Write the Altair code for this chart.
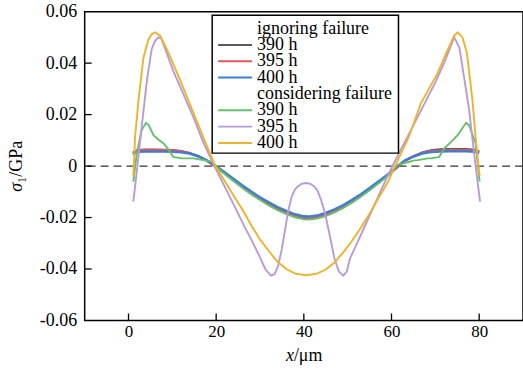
import altair as alt
import pandas as pd

# ---------------- data ----------------
KEYS = ["ignoring 390 h", "ignoring 395 h", "ignoring 400 h",
        "considering 390 h", "considering 395 h", "considering 400 h"]
COLORS = ["#5a5a5a", "#e2575b", "#3b7dd8", "#63bf6c", "#b79ad8", "#eeb22c"]

LEG_LABELS = ["ignoring failure", "390 h", "395 h", "400 h",
              "considering failure", "390 h", "395 h", "400 h"]
LEG_COLORS = ["transparent", "#5a5a5a", "#e2575b", "#3b7dd8",
              "transparent", "#63bf6c", "#b79ad8", "#eeb22c"]

IG_X = [1, 2, 4, 6, 8, 10, 12, 14, 16, 18, 20, 22, 24, 26, 28, 30, 32, 34, 36, 38, 40, 41,
        43, 45, 47, 49, 51, 53, 55, 57, 59, 61, 63, 65, 67, 69, 71, 73, 75, 77, 79, 80]
IG390 = [0.0052, 0.0062, 0.0064, 0.0064, 0.0063, 0.0062, 0.0058, 0.0050, 0.0038, 0.0020, -0.0003,
         -0.0029, -0.0055, -0.0081, -0.0105, -0.0127, -0.0148, -0.0166, -0.0181, -0.0194, -0.0202,
         -0.0203, -0.0199, -0.0189, -0.0175, -0.0158, -0.0138, -0.0115, -0.0091, -0.0065, -0.0038,
         -0.0009, 0.0020, 0.0038, 0.0052, 0.0061, 0.0065, 0.0066, 0.0066, 0.0066, 0.0063, 0.0056]
IG395 = [0.0050, 0.0061, 0.0062, 0.0062, 0.0062, 0.0061, 0.0057, 0.0049, 0.0037, 0.0020, -0.0002,
         -0.0028, -0.0054, -0.0080, -0.0104, -0.0126, -0.0147, -0.0165, -0.0180, -0.0193, -0.0201,
         -0.0202, -0.0198, -0.0188, -0.0174, -0.0157, -0.0137, -0.0114, -0.0090, -0.0064, -0.0037,
         -0.0008, 0.0020, 0.0037, 0.0050, 0.0058, 0.0061, 0.0062, 0.0062, 0.0062, 0.0060, 0.0054]
IG400 = [0.0045, 0.0055, 0.0056, 0.0056, 0.0056, 0.0055, 0.0053, 0.0048, 0.0038, 0.0022, 0.0000,
         -0.0025, -0.0050, -0.0075, -0.0099, -0.0121, -0.0141, -0.0159, -0.0174, -0.0187, -0.0195,
         -0.0196, -0.0192, -0.0182, -0.0168, -0.0151, -0.0131, -0.0109, -0.0085, -0.0060, -0.0034,
         -0.0005, 0.0022, 0.0037, 0.0048, 0.0054, 0.0056, 0.0057, 0.0057, 0.0057, 0.0055, 0.0050]

C390_X = [1.1, 1.9, 3.0, 4.0, 4.6, 5.7, 6.8, 8.0, 9.1, 10.2, 12.1, 14.8, 17.1, 19.0, 20, 22, 24,
          26, 28, 30, 32, 34, 36, 38, 40, 41, 43, 45, 47, 49, 51, 53, 55, 57, 59, 61.4, 63.7,
          65.2, 66, 68.3, 69, 70.9, 72, 73.6, 75.1, 77.0, 77.7, 79.2, 80.1]
C390_Y = [-0.0060, 0.0050, 0.0140, 0.0168, 0.0159, 0.0120, 0.0103, 0.0088, 0.0065, 0.0036, 0.0030,
          0.0030, 0.0023, 0.0017, -0.0002, -0.0032, -0.0059, -0.0085, -0.0110, -0.0132, -0.0153,
          -0.0171, -0.0187, -0.0199, -0.0207, -0.0208, -0.0204, -0.0194, -0.0180, -0.0163, -0.0142,
          -0.0119, -0.0094, -0.0068, -0.0040, 0.0005, 0.0015, 0.0022, 0.0023, 0.0030, 0.0030,
          0.0036, 0.0068, 0.0094, 0.0120, 0.0168, 0.0159, 0.0088, -0.0060]

C395_X = [1.1, 1.9, 3.0, 4.2, 5.3, 6.0, 6.8, 7.5, 8.7, 10.2, 12, 14.8, 17, 18.2, 19.6, 22, 24,
          26.6, 28, 30, 31.2, 32.5, 33.3, 34.1, 35, 35.7, 36.4, 37.2, 38, 38.7, 39.5, 40.5, 41.5,
          42.3, 43.1, 43.9, 44.8, 45.8, 47, 48, 49, 49.8, 50.5, 52, 54, 56, 58, 60.2, 62, 64, 67,
          70, 72, 73.5, 74.3, 75.5, 76.6, 77.7, 78.5, 79.2, 80.2]
C395_Y = [-0.0138, -0.0020, 0.0152, 0.0333, 0.0455, 0.0485, 0.0500, 0.0495, 0.0440, 0.0370, 0.0300,
          0.0190, 0.0095, 0.0050, 0.0000, -0.0082, -0.0150, -0.0240, -0.0285, -0.0355, -0.0400,
          -0.0426, -0.0420, -0.0390, -0.0320, -0.0250, -0.0177, -0.0120, -0.0090, -0.0078, -0.0069,
          -0.0066, -0.0069, -0.0078, -0.0095, -0.0130, -0.0180, -0.0260, -0.0360, -0.0410, -0.0426,
          -0.0410, -0.0360, -0.0305, -0.0230, -0.0155, -0.0080, 0.0000, 0.0060, 0.0125, 0.0225,
          0.0325, 0.0400, 0.0465, 0.0500, 0.0460, 0.0340, 0.0220, 0.0100, 0.0000, -0.0138]

C400_X = [1.1, 1.5, 2.3, 3.4, 4.5, 5.3, 6.1, 7.2, 8.7, 10.2, 11.8, 14.8, 17, 19.8, 22, 24, 26, 28,
          30, 32, 34, 36, 38, 40.5, 43, 45, 47, 49, 51, 53, 55, 57, 59.2, 60.8, 64, 66.7, 70.5,
          72.5, 74.3, 75.1, 76.2, 77.2, 78.1, 78.5, 79.3, 80.1]
C400_Y = [-0.0041, 0.0113, 0.0260, 0.0420, 0.0490, 0.0513, 0.0520, 0.0507, 0.0455, 0.0397, 0.0333,
          0.0208, 0.0115, 0.0000, -0.0060, -0.0115, -0.0170, -0.0230, -0.0285, -0.0330, -0.0372,
          -0.0400, -0.0418, -0.0424, -0.0418, -0.0402, -0.0375, -0.0335, -0.0290, -0.0240, -0.0185,
          -0.0125, -0.0062, 0.0000, 0.0115, 0.0244, 0.0360, 0.0440, 0.0507, 0.0520, 0.0500, 0.0440,
          0.0310, 0.0250, 0.0090, -0.0040]

X_TICKS = [0, 20, 40, 60, 80]
Y_LABELS = [-0.06, -0.04, -0.02, 0, 0.02, 0.04, 0.06]
Y_TICKS = [-0.04, -0.02, 0, 0.02, 0.04]

# ---------------- build tables ----------------
def table(series):
    rows = []
    for key, xs, ys in series:
        for xv, yv in zip(xs, ys):
            rows.append({"s": key, "x": xv, "y": yv})
    return pd.DataFrame(rows)

df_ig = table([("ignoring 390 h", IG_X, IG390), ("ignoring 395 h", IG_X, IG395),
               ("ignoring 400 h", IG_X, IG400)])
df_co = table([("considering 390 h", C390_X, C390_Y), ("considering 395 h", C395_X, C395_Y),
               ("considering 400 h", C400_X, C400_Y)])
df_leg = pd.DataFrame({"row": list(range(len(LEG_LABELS))), "t": LEG_LABELS, "c": LEG_COLORS})

FONT = "Liberation Serif"
xscale = alt.Scale(domain=[-10, 90], nice=False, zero=False)
yscale = alt.Scale(domain=[-0.06, 0.06], nice=False, zero=False)
legscale = alt.Scale(domain=[0, 7], range=[17, 131.8], nice=False, zero=False)

color = alt.Color("s:N", scale=alt.Scale(domain=KEYS, range=COLORS), legend=None)

x_enc = alt.X("x:Q", scale=xscale,
              axis=alt.Axis(values=X_TICKS, title=None, tickSize=0, domain=False, grid=False,
                            labelFont=FONT, labelFontSize=17, labelColor="black", labelPadding=3))
y_enc = alt.Y("y:Q", scale=yscale,
              axis=alt.Axis(values=Y_LABELS, title=None, tickSize=0, domain=False, grid=False,
                            labelFont=FONT, labelFontSize=18, labelColor="black", labelPadding=8,
                            labelExpr="datum.value == 0 ? '0' : (datum.value < 0 ? '-' : '') + format(abs(datum.value), '.2f')"))

ig_lines = alt.Chart(df_ig).mark_line(strokeWidth=2.3).encode(x=x_enc, y=y_enc, color=color)
co_lines = alt.Chart(df_co).mark_line(strokeWidth=1.9).encode(
    x=alt.X("x:Q", scale=xscale, axis=None), y=alt.Y("y:Q", scale=yscale, axis=None), color=color)

zero = alt.Chart(pd.DataFrame({"v": [0]})).mark_rule(
    color="#333333", strokeWidth=1.3, strokeDash=[8, 5]
).encode(y=alt.Y("v:Q", scale=yscale, axis=None))

yt = alt.Chart(pd.DataFrame({"v": Y_TICKS})).mark_rule(color="black", strokeWidth=1.3).encode(
    y=alt.Y("v:Q", scale=yscale, axis=None), x=alt.value(0), x2=alt.value(7))
xt = alt.Chart(pd.DataFrame({"v": X_TICKS})).mark_rule(color="black", strokeWidth=1.3).encode(
    x=alt.X("v:Q", scale=xscale, axis=None), y=alt.value(310), y2=alt.value(303))

# ---------------- legend (drawn as marks) ----------------
leg_box = alt.Chart(pd.DataFrame({"k": [0]})).mark_rect(
    fill="white", stroke="black", strokeWidth=1.5
).encode(x=alt.value(128), x2=alt.value(315), y=alt.value(3.5), y2=alt.value(142))
leg_sym = alt.Chart(df_leg).mark_rule(strokeWidth=2).encode(
    y=alt.Y("row:Q", scale=legscale, axis=None), x=alt.value(134), x2=alt.value(168),
    color=alt.Color("c:N", scale=None))
leg_txt = alt.Chart(df_leg).mark_text(
    font=FONT, fontSize=18, align="left", baseline="middle", color="black"
).encode(y=alt.Y("row:Q", scale=legscale, axis=None), x=alt.value(173), text="t:N")

def label(txt, x, y, align, style="normal", angle=0, size=18):
    return alt.Chart(pd.DataFrame({"t": [txt]})).mark_text(
        font=FONT, fontSize=size, fontStyle=style, align=align, baseline="alphabetic",
        angle=angle, color="black"
    ).encode(text="t:N", x=alt.value(x), y=alt.value(y))

titles = [
    label("x", 210, 351, "right", "italic"),
    label("/μm", 210, 351, "left"),
    label("σ", -63, 172, "right", "italic", 270),
    label("₁/GPa", -63, 172, "left", "normal", 270),
]

chart = alt.layer(zero, ig_lines, co_lines, yt, xt, leg_box, leg_sym, leg_txt, *titles).resolve_axis(
    x="independent", y="independent"
).resolve_scale(y="independent").properties(
    width=440, height=310, background="white",
    autosize=alt.AutoSizeParams(type="none"),
    padding={"left": 85, "top": 11, "right": 0, "bottom": 50},
).configure(font=FONT).configure_view(stroke="black", strokeWidth=1.5)

chart.save("out.html", embed_options={"renderer": "svg", "actions": False})
